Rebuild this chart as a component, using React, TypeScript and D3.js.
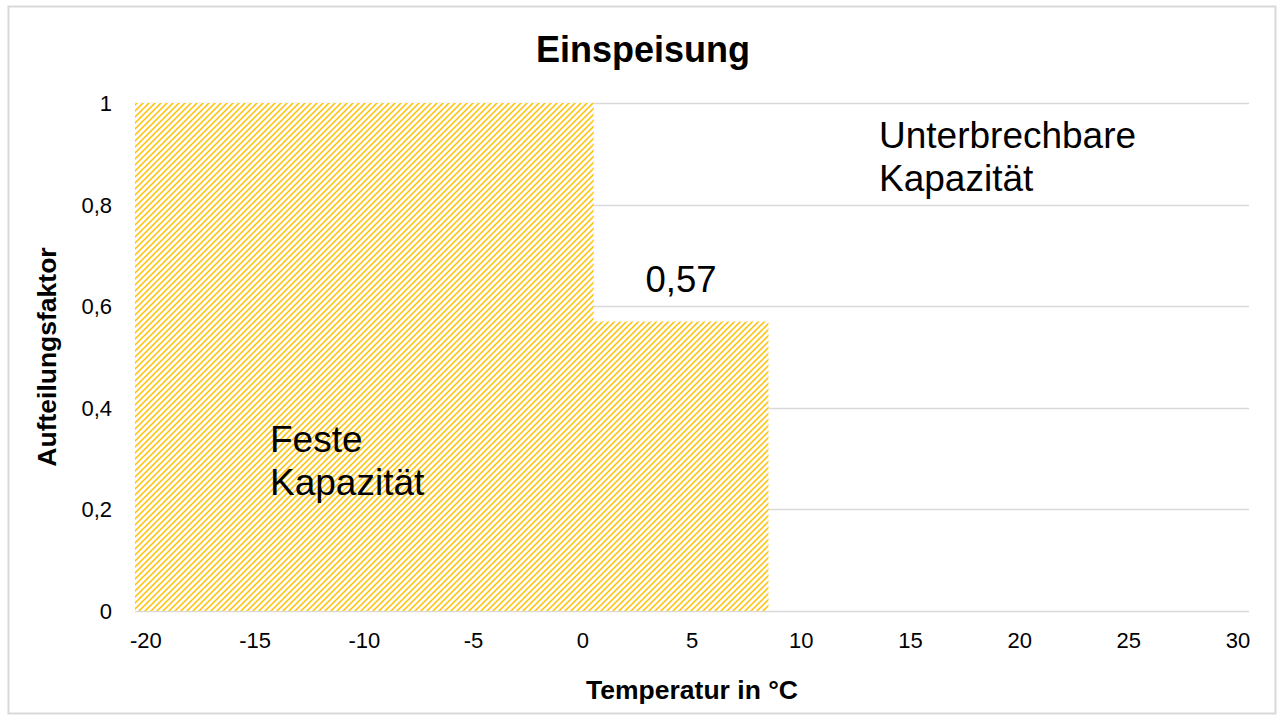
import React from "react";
import * as d3 from "d3";

const categories: number[] = d3.range(-20, 31);
const fixedShare: number[] = categories.map((t) => (t <= 0 ? 1 : t <= 8 ? 0.57 : 0));
const xTickValues: number[] = [-20, -15, -10, -5, 0, 5, 10, 15, 20, 25, 30];
const yTickValues: number[] = [0, 0.2, 0.4, 0.6, 0.8, 1];
const chartTitle = "Einspeisung";
const xTitle = "Temperatur in °C";
const yTitle = "Aufteilungsfaktor";
const labelValue = "0,57";

const W = 1281;
const H = 720;
const plot = { left: 135, right: 1249, top: 103, bottom: 611 };
const font = "Liberation Sans, Arial, sans-serif";
const gold = "#ffc000";
const grid = "#d9d9d9";

export default function App() {
  const x = d3
    .scaleBand<number>()
    .domain(categories)
    .range([plot.left, plot.right])
    .padding(0);
  const y = d3.scaleLinear().domain([0, 1]).range([plot.bottom, plot.top]);
  const fmt = (v: number) => String(v).replace(".", ",");

  const bw = x.bandwidth();
  const stepData = [...fixedShare, fixedShare[fixedShare.length - 1]];
  const areaPath = d3
    .area<number>()
    .curve(d3.curveStepAfter)
    .x((d, i) =>
      i < categories.length
        ? (x(categories[i]) as number)
        : (x(categories[categories.length - 1]) as number) + bw
    )
    .y0(y(0))
    .y1((d) => y(d))(stepData);

  const lowStart = categories.findIndex((t) => t === 1);
  const lowEnd = categories.findIndex((t) => t === 8);
  const labelX = ((x(categories[lowStart]) as number) + (x(categories[lowEnd]) as number) + bw) / 2;

  return (
    <svg
      width={W}
      height={H}
      style={{ position: "absolute", left: 0, top: 0, background: "#fff" }}
      fontFamily={font}
    >
      <defs>
        <pattern id="hatch" width={6} height={6} patternUnits="userSpaceOnUse">
          <rect width={6} height={6} fill="#fff" />
          <path
            d="M0,6 L6,0 M-1.5,1.5 L1.5,-1.5 M4.5,7.5 L7.5,4.5"
            stroke={gold}
            strokeWidth={1.5}
          />
        </pattern>
      </defs>
      <rect x={8.5} y={6.5} width={1267} height={707} fill="#fff" stroke={grid} strokeWidth={2} />

      <text x={643} y={62} textAnchor="middle" fontSize={36} fontWeight="bold" fill="#000">
        {chartTitle}
      </text>

      {yTickValues.map((v) => (
        <line
          key={"g" + v}
          x1={plot.left}
          x2={plot.right}
          y1={Math.round(y(v)) + 0.5}
          y2={Math.round(y(v)) + 0.5}
          stroke={grid}
          strokeWidth={1.5}
        />
      ))}

      <path d={areaPath || ""} fill="url(#hatch)" />

      {yTickValues.map((v) => (
        <text key={"yl" + v} x={112} y={y(v) + 8} textAnchor="end" fontSize={22} fill="#000">
          {fmt(v)}
        </text>
      ))}
      {xTickValues.map((v) => (
        <text
          key={"xl" + v}
          x={(x(v) as number) + bw / 2}
          y={648}
          textAnchor="middle"
          fontSize={22}
          fill="#000"
        >
          {String(v)}
        </text>
      ))}

      <text x={(plot.left + plot.right) / 2} y={699} textAnchor="middle" fontSize={26.5} fontWeight="bold">
        {xTitle}
      </text>
      <text
        transform={`translate(56,${(plot.top + plot.bottom) / 2}) rotate(-90)`}
        textAnchor="middle"
        fontSize={26.5}
        fontWeight="bold"
      >
        {yTitle}
      </text>

      <text x={labelX} y={y(0.57) - 29} textAnchor="middle" fontSize={36.5}>
        {labelValue}
      </text>
      <text x={879} y={148} fontSize={37}>
        <tspan x={879} dy={0}>Unterbrechbare</tspan>
        <tspan x={879} dy={43}>Kapazität</tspan>
      </text>
      <text x={270} y={452} fontSize={37}>
        <tspan x={270} dy={0}>Feste</tspan>
        <tspan x={270} dy={43}>Kapazität</tspan>
      </text>
    </svg>
  );
}
